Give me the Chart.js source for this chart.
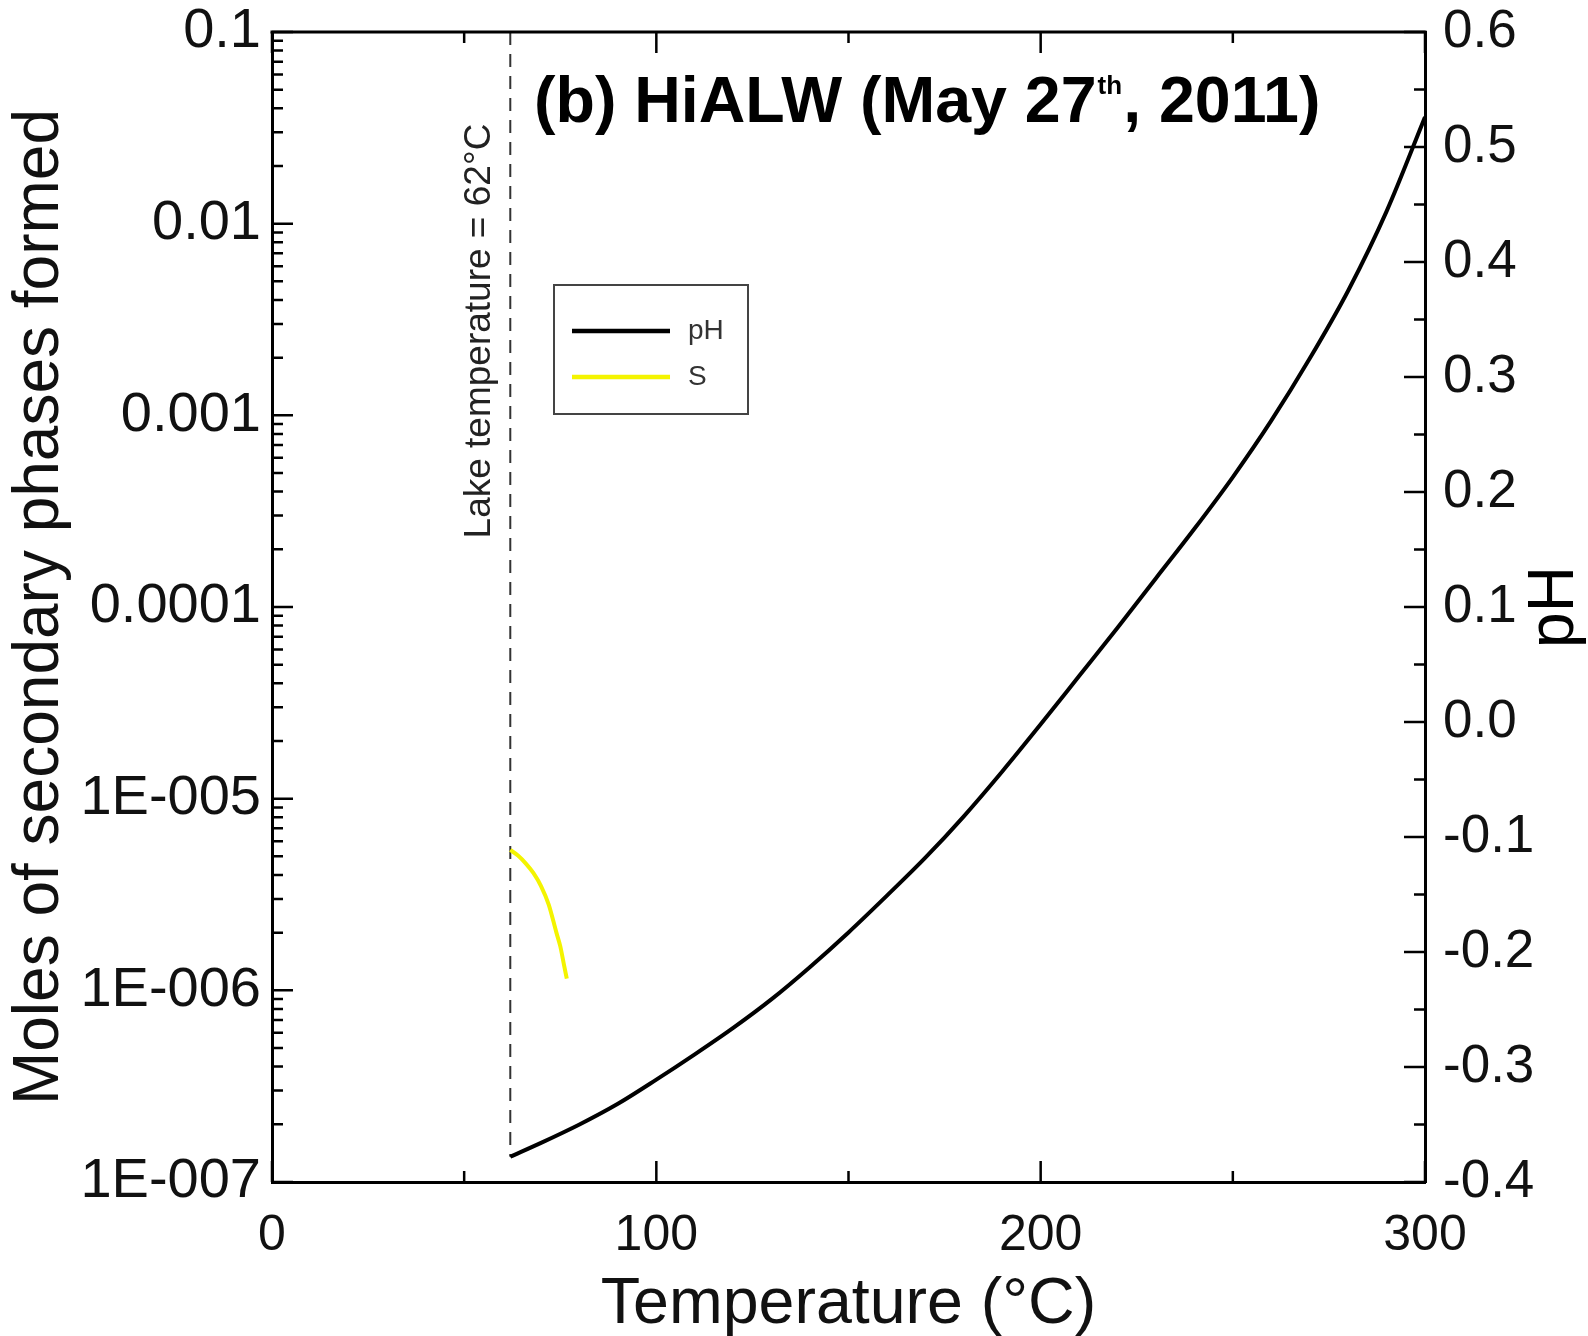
<!DOCTYPE html>
<html>
<head>
<meta charset="utf-8">
<script src="https://cdn.jsdelivr.net/npm/chart.js@4.4.1/dist/chart.umd.min.js"></script>
<style>
  html, body { margin: 0; padding: 0; background: #fff; }
  #wrap { width: 1588px; height: 1336px; }
</style>
</head>
<body>
<div id="wrap"><canvas id="mainGraph" width="1588" height="1336"></canvas></div>
<script>
// temperature (°C) and pH of the solution
var temps = [62, 70, 80, 90, 100, 110, 120, 130, 140, 150, 160, 170, 180, 190, 200, 210, 220, 230, 240, 250, 260, 270, 280, 290, 300];
var pHValues = [-0.378, -0.366, -0.350, -0.332, -0.311, -0.289, -0.266, -0.241, -0.213, -0.183, -0.151, -0.118, -0.082, -0.043, -0.002, 0.040, 0.082, 0.125, 0.168, 0.213, 0.262, 0.316, 0.375, 0.444, 0.526];

// moles of S formed
var sTemps = [62, 64, 66, 68, 70, 72, 74, 75, 76, 76.7];
var sMoles = [5.4e-6, 5.05e-6, 4.6e-6, 4.1e-6, 3.5e-6, 2.8e-6, 2.0e-6, 1.7e-6, 1.35e-6, 1.15e-6];

// lake temperature marker
var lakeTemp = 62;

// axis ticks
var decadeValues = [1e-7, 1e-6, 1e-5, 1e-4, 1e-3, 1e-2, 1e-1];
var decadeLabels = ['1E-007', '1E-006', '1E-005', '0.0001', '0.001', '0.01', '0.1'];
var xMajor = [0, 100, 200, 300];
var xMinor = [50, 150, 250];

var FONT = '"Liberation Sans", Arial, Helvetica, sans-serif';

function pts(xs, ys) {
    var out = [];
    for (var i = 0; i < xs.length; i++) out.push({x: xs[i], y: ys[i]});
    return out;
}

// ticks inside the frame, top border, texts, legend
var decorations = {
    id: 'decorations',
    afterDraw: function (chart) {
        var ctx = chart.ctx;
        var a = chart.chartArea;
        var sx = chart.scales.x, sy = chart.scales.y, sp = chart.scales.y1;
        var major = 21, minor = 11;
        ctx.save();
        ctx.strokeStyle = '#000';

        // top border
        ctx.beginPath();
        ctx.lineWidth = 3;
        ctx.moveTo(a.left - 1.5, a.top);
        ctx.lineTo(a.right + 1.5, a.top);
        ctx.stroke();
        ctx.lineWidth = 2.5;

        ctx.beginPath();
        xMajor.forEach(function (v) {
            var px = sx.getPixelForValue(v);
            ctx.moveTo(px, a.bottom); ctx.lineTo(px, a.bottom - major);
            ctx.moveTo(px, a.top); ctx.lineTo(px, a.top + major);
        });
        xMinor.forEach(function (v) {
            var px = sx.getPixelForValue(v);
            ctx.moveTo(px, a.bottom); ctx.lineTo(px, a.bottom - minor);
            ctx.moveTo(px, a.top); ctx.lineTo(px, a.top + minor);
        });
        // log ticks on left
        decadeValues.forEach(function (d, i) {
            var py = sy.getPixelForValue(d);
            ctx.moveTo(a.left, py); ctx.lineTo(a.left + major, py);
            if (i < decadeValues.length - 1) {
                for (var m = 2; m <= 9; m++) {
                    var my = sy.getPixelForValue(m * d);
                    ctx.moveTo(a.left, my); ctx.lineTo(a.left + minor, my);
                }
            }
        });
        // pH ticks on right
        for (var k = 0; k <= 20; k++) {
            var v = -0.4 + k * 0.05;
            var py2 = sp.getPixelForValue(v);
            var len = (k % 2 === 0) ? major : minor;
            ctx.moveTo(a.right, py2); ctx.lineTo(a.right - len, py2);
        }
        ctx.stroke();

        // panel title with superscript
        ctx.fillStyle = '#000';
        ctx.textBaseline = 'alphabetic';
        ctx.textAlign = 'left';
        var tx = 534, ty = 122;
        ctx.font = 'bold 64.5px ' + FONT;
        var p1 = '(b) HiALW (May 27';
        ctx.fillText(p1, tx, ty);
        tx += ctx.measureText(p1).width + 1;
        ctx.font = 'bold 26px ' + FONT;
        ctx.fillText('th', tx, ty - 28);
        tx += ctx.measureText('th').width + 1;
        ctx.font = 'bold 64.5px ' + FONT;
        ctx.fillText(', 2011)', tx, ty);

        // lake temperature annotation
        ctx.save();
        ctx.translate(sx.getPixelForValue(lakeTemp) - 30, 331);
        ctx.rotate(-Math.PI / 2);
        ctx.font = '37px ' + FONT;
        ctx.fillStyle = '#222';
        ctx.textAlign = 'center';
        ctx.textBaseline = 'middle';
        ctx.fillText('Lake temperature = ' + lakeTemp + '\u00B0C', 0, 0);
        ctx.restore();

        // right axis title
        ctx.save();
        ctx.translate(1555, 607);
        ctx.rotate(-Math.PI / 2);
        ctx.font = '64px ' + FONT;
        ctx.fillStyle = '#000';
        ctx.textAlign = 'center';
        ctx.textBaseline = 'middle';
        ctx.fillText('pH', 0, 0);
        ctx.restore();

        // legend
        var lx = 554, ly = 285, lw = 194, lh = 129;
        ctx.fillStyle = '#fff';
        ctx.fillRect(lx, ly, lw, lh);
        ctx.strokeStyle = '#444';
        ctx.lineWidth = 2;
        ctx.strokeRect(lx, ly, lw, lh);
        var items = chart.data.datasets.filter(function (ds) { return ds.label; });
        items.forEach(function (ds, i) {
            var yy = ly + 46 + i * 46;
            ctx.beginPath();
            ctx.strokeStyle = ds.borderColor;
            ctx.lineWidth = 4.5;
            ctx.moveTo(lx + 18, yy);
            ctx.lineTo(lx + 116, yy);
            ctx.stroke();
            ctx.fillStyle = '#333';
            ctx.font = '28px ' + FONT;
            ctx.textAlign = 'left';
            ctx.textBaseline = 'middle';
            ctx.fillText(ds.label, lx + 134, yy);
        });
        ctx.restore();
    }
};

function noVPad(s) { s.paddingTop = 0; s.paddingBottom = 0; }

var ctx = document.getElementById('mainGraph').getContext('2d');
var chart = new Chart(ctx, {
    type: 'scatter',
    data: {
        datasets: [
            {
                label: 'pH',
                data: pts(temps, pHValues),
                yAxisID: 'y1',
                showLine: true,
                borderColor: '#000000',
                borderWidth: 4,
                pointRadius: 0,
                cubicInterpolationMode: 'monotone',
                fill: false
            },
            {
                label: 'S',
                data: pts(sTemps, sMoles),
                yAxisID: 'y',
                showLine: true,
                borderColor: '#f4f400',
                borderWidth: 4,
                pointRadius: 0,
                cubicInterpolationMode: 'monotone',
                fill: false
            },
            {
                // dashed line at the lake temperature
                data: pts([lakeTemp, lakeTemp], [0.6, pHValues[0]]),
                yAxisID: 'y1',
                showLine: true,
                borderColor: '#333333',
                borderWidth: 2,
                borderDash: [13, 9],
                pointRadius: 0,
                fill: false
            }
        ]
    },
    options: {
        responsive: false,
        animation: false,
        events: [],
        layout: { padding: { top: 32, left: 0, right: 0, bottom: 0 } },
        plugins: {
            legend: { display: false },
            tooltip: { enabled: false }
        },
        scales: {
            x: {
                type: 'linear',
                position: 'bottom',
                min: 0,
                max: 300,
                afterFit: function (s) { s.height = 154; s.paddingLeft = 0; s.paddingRight = 0; },
                afterBuildTicks: function (s) { s.ticks = xMajor.map(function (v) { return {value: v}; }); },
                grid: { display: false, drawTicks: false },
                border: { display: true, color: '#000', width: 3 },
                ticks: {
                    color: '#111',
                    padding: 24,
                    maxRotation: 0,
                    autoSkip: false,
                    font: { family: FONT, size: 50 }
                },
                title: {
                    display: true,
                    text: 'Temperature (\u00B0C)',
                    color: '#111',
                    padding: { top: 0, bottom: -8 },
                    font: { family: FONT, size: 64.5 }
                }
            },
            y: {
                type: 'logarithmic',
                position: 'left',
                min: 1e-7,
                max: 0.1,
                afterFit: function (s) { s.width = 272; noVPad(s); },
                afterBuildTicks: function (s) { s.ticks = decadeValues.map(function (v) { return {value: v}; }); },
                grid: { display: false, drawTicks: false },
                border: { display: true, color: '#000', width: 3 },
                ticks: {
                    color: '#111',
                    padding: 11,
                    autoSkip: false,
                    font: { family: FONT, size: 56 },
                    callback: function (value, index) { return decadeLabels[index]; }
                },
                title: {
                    display: true,
                    text: 'Moles of secondary phases formed',
                    color: '#111',
                    padding: { top: 2, bottom: 0 },
                    font: { family: FONT, size: 64 }
                }
            },
            y1: {
                type: 'linear',
                position: 'right',
                min: -0.4,
                max: 0.6,
                afterFit: function (s) { s.width = 163; noVPad(s); },
                grid: { display: false, drawTicks: false },
                border: { display: true, color: '#000', width: 3 },
                ticks: {
                    stepSize: 0.1,
                    color: '#111',
                    padding: 18,
                    autoSkip: false,
                    font: { family: FONT, size: 53 },
                    callback: function (v) { return Math.abs(v) < 1e-9 ? '0.0' : Number(v).toFixed(1); }
                }
            }
        }
    },
    plugins: [decorations]
});
</script>
</body>
</html>
